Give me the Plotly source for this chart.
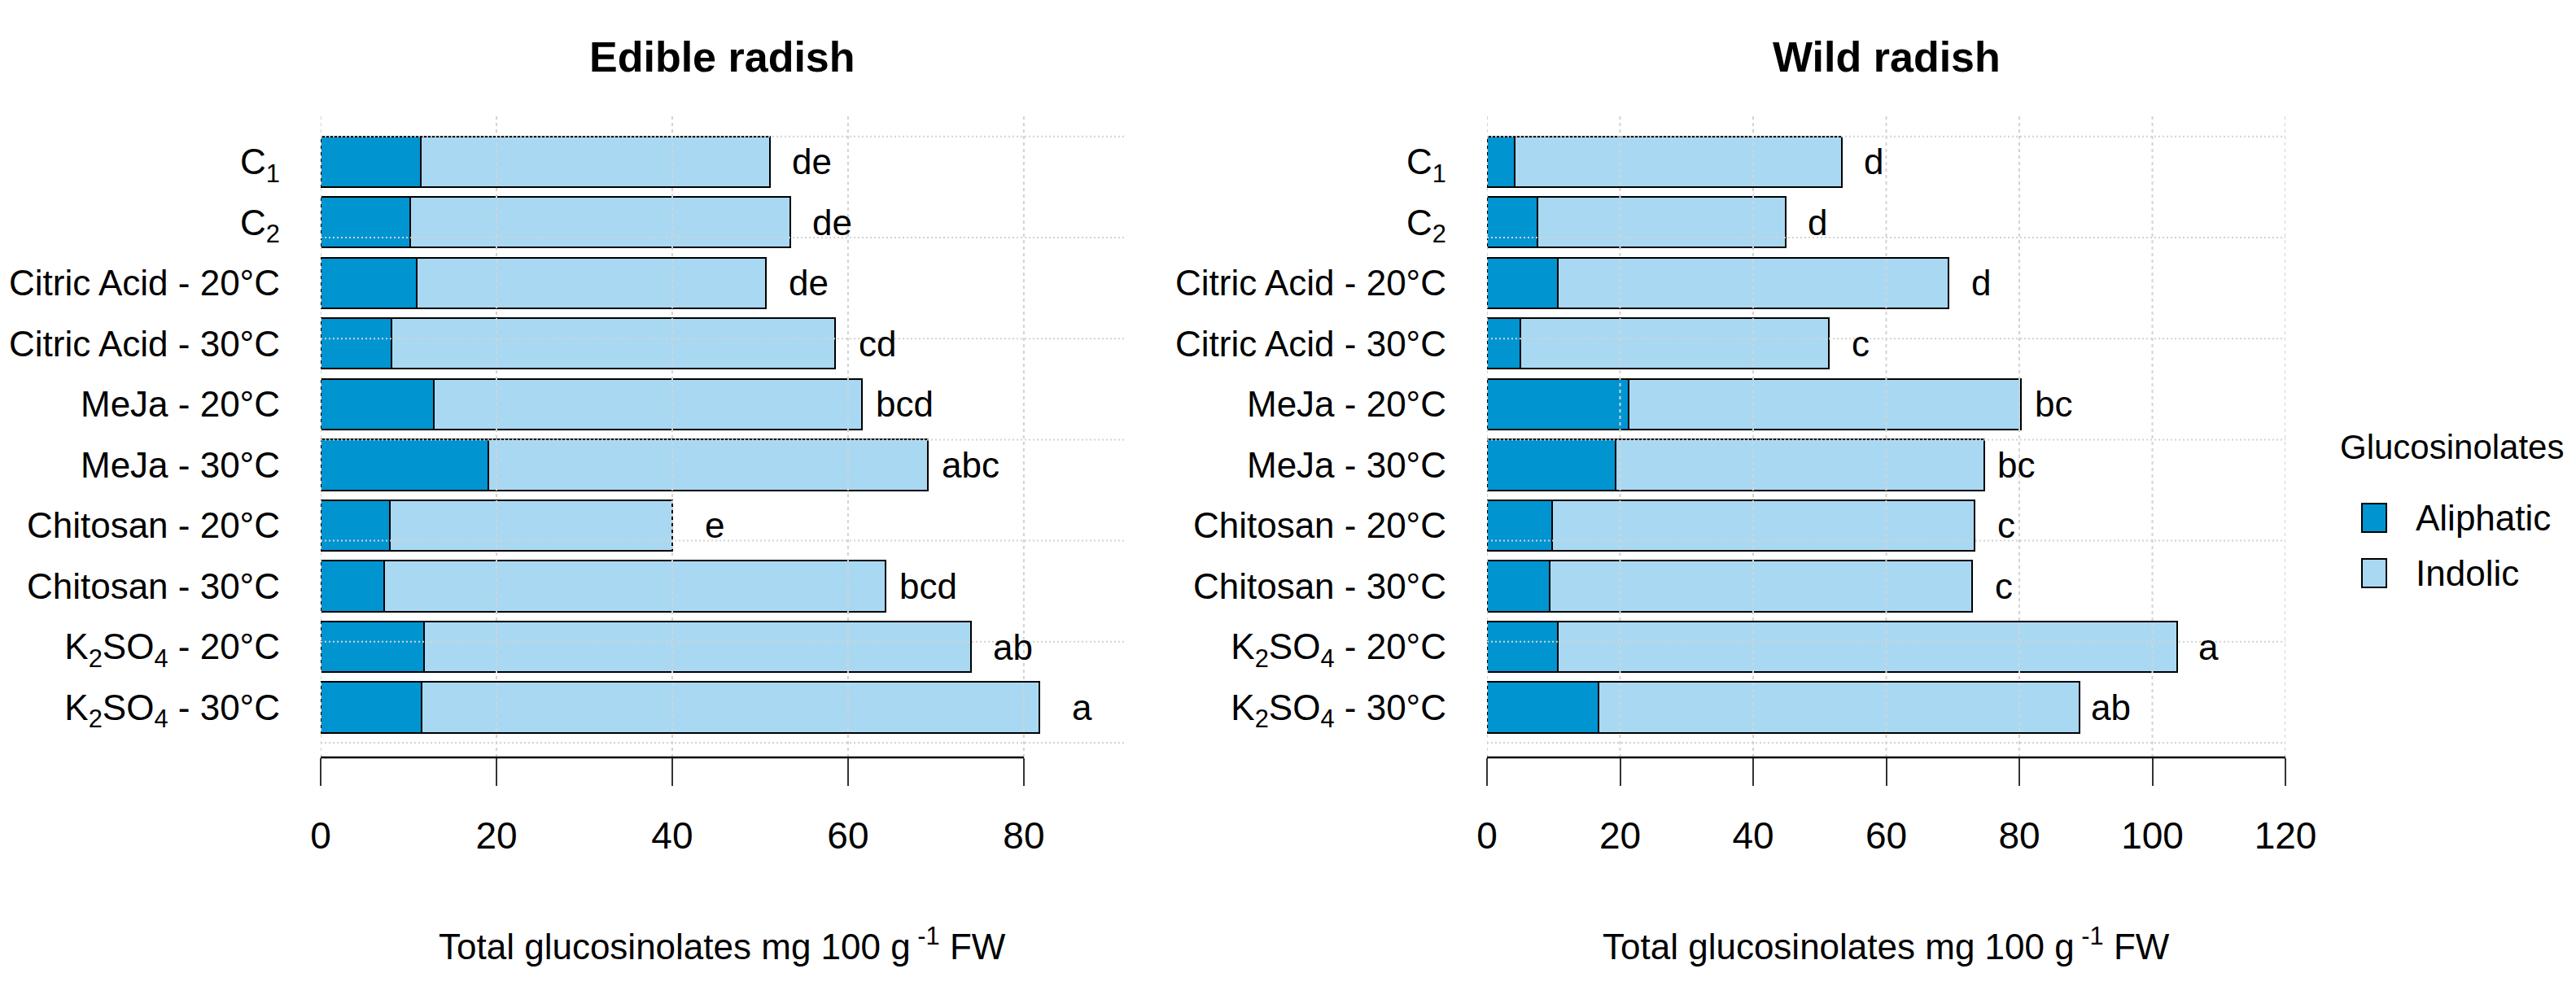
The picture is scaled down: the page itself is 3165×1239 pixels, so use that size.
import plotly.graph_objects as go

# ---------------- data ----------------
categories = [
    "C<sub>1</sub>", "C<sub>2</sub>",
    "Citric Acid - 20°C", "Citric Acid - 30°C",
    "MeJa - 20°C", "MeJa - 30°C",
    "Chitosan - 20°C", "Chitosan - 30°C",
    "K<sub>2</sub>SO<sub>4</sub> - 20°C", "K<sub>2</sub>SO<sub>4</sub> - 30°C",
]
edible_aliphatic = [11.4, 10.2, 10.9, 8.1, 12.9, 19.1, 7.9, 7.2, 11.8, 11.5]
edible_indolic = [39.7, 43.2, 39.8, 50.4, 48.7, 50.0, 32.1, 57.1, 62.2, 70.3]
edible_letters = ["de", "de", "de", "cd", "bcd", "abc", "e", "bcd", "ab", "a"]

wild_aliphatic = [4.1, 7.6, 10.7, 5.0, 21.3, 19.3, 9.8, 9.4, 10.7, 16.7]
wild_indolic = [49.2, 37.3, 58.7, 46.4, 59.0, 55.4, 63.5, 63.5, 93.0, 72.3]
wild_letters = ["d", "d", "d", "c", "bc", "bc", "c", "c", "a", "ab"]

edible_ticks = [0, 20, 40, 60, 80]
wild_ticks = [0, 20, 40, 60, 80, 100, 120]
ygrid = [0, 2, 4, 6, 8, 10, 12]

# ---------------- style ----------------
W, H = 3165, 1239
FONT = "Liberation Sans, Arial, sans-serif"
FS = 44
C_ALI = "#0094D1"
C_IND = "#A9D8F2"
GRID = "#D3D3D3"

n = len(categories)
ypos = [0.7 + 1.2 * (n - 1 - i) for i in range(n)]   # R barplot positions (space=0.2)

ydom = [(H - 931) / H, (H - 143) / H]
xdom1 = [394 / W, 1381 / W]
xdom2 = [1827 / W, 2808 / W]

fig = go.Figure()

panels = [
    ("x", "y", edible_aliphatic, edible_indolic, edible_letters, edible_ticks),
    ("x2", "y2", wild_aliphatic, wild_indolic, wild_letters, wild_ticks),
]
for xa, ya, ali, ind, letters, ticks in panels:
    fig.add_trace(go.Bar(x=ali, y=ypos, orientation="h", width=1.0, name="Aliphatic",
                         marker=dict(color=C_ALI, line=dict(color="black", width=2)),
                         xaxis=xa, yaxis=ya, showlegend=False, hoverinfo="skip"))
    fig.add_trace(go.Bar(x=ind, y=ypos, orientation="h", width=1.0, name="Indolic",
                         marker=dict(color=C_IND, line=dict(color="black", width=2)),
                         xaxis=xa, yaxis=ya, showlegend=False, hoverinfo="skip"))
    for a, b, lab, yp in zip(ali, ind, letters, ypos):
        fig.add_annotation(x=a + b + 4.8, y=yp, xref=xa, yref=ya, text=lab,
                           showarrow=False, xanchor="center", yanchor="middle",
                           font=dict(family=FONT, size=FS, color="black"))
    # grid drawn over the bars, as R's grid() does
    for t in ticks:
        fig.add_shape(type="line", xref=xa, yref=ya + " domain", x0=t, x1=t, y0=0, y1=1,
                      layer="above", line=dict(color=GRID, width=2, dash="4px,4px"))
    for g in ygrid:
        fig.add_shape(type="line", xref=xa + " domain", yref=ya, x0=0, x1=1, y0=g, y1=g,
                      layer="above", line=dict(color=GRID, width=2, dash="2px,3px"))
    # axis line spanning only the tick range (as in base R)
    fig.add_shape(type="line", xref=xa, yref=ya + " domain", x0=ticks[0], x1=ticks[-1],
                  y0=0, y1=0, layer="above", line=dict(color="black", width=2.5))

common_x = dict(
    ticks="outside", ticklen=34, tickwidth=2, tickcolor="#333333",
    showline=False, zeroline=False, showgrid=False,
    tickfont=dict(family=FONT, size=FS + 2, color="black"),
    ticklabelstandoff=22, automargin=False, fixedrange=True,
)
common_y = dict(
    range=[-0.29, 12.40], tickvals=ypos, ticktext=categories, ticks="",
    showline=False, zeroline=False, showgrid=False, domain=ydom, automargin=False,
    tickfont=dict(family=FONT, size=FS, color="black"), ticklabelstandoff=49,
    fixedrange=True,
)

fig.update_layout(
    width=W, height=H, barmode="stack", plot_bgcolor="white", paper_bgcolor="white",
    margin=dict(l=0, r=0, t=0, b=0, autoexpand=False),
    xaxis=dict(domain=xdom1, range=[0, 91.4], tickvals=edible_ticks, anchor="y", **common_x),
    yaxis=dict(anchor="x", **common_y),
    xaxis2=dict(domain=xdom2, range=[0, 120], tickvals=wild_ticks, anchor="y2", **common_x),
    yaxis2=dict(anchor="x2", **common_y),
)

# titles
for dom, title in ((xdom1, "Edible radish"), (xdom2, "Wild radish")):
    cx = (dom[0] + dom[1]) / 2
    fig.add_annotation(x=cx, y=(H - 70) / H, xref="paper", yref="paper", text="<b>" + title + "</b>",
                       showarrow=False, xanchor="center", yanchor="middle",
                       font=dict(family=FONT, size=52, color="black"))
    fig.add_annotation(x=cx, y=(H - 1160) / H, xref="paper", yref="paper",
                       text="Total glucosinolates mg 100 g<sup> -1</sup> FW",
                       showarrow=False, xanchor="center", yanchor="middle",
                       font=dict(family=FONT, size=FS, color="black"))

# legend (drawn manually to match the large key boxes)
fig.add_annotation(x=2873 / W, y=(H - 549) / H, xref="paper", yref="paper", text="Glucosinolates",
                   showarrow=False, xanchor="left", yanchor="middle",
                   font=dict(family=FONT, size=42, color="black"))
for (top, bot, col, lab) in ((619, 654, C_ALI, "Aliphatic"), (687, 722, C_IND, "Indolic")):
    fig.add_shape(type="rect", xref="paper", yref="paper", x0=2902 / W, x1=2932 / W,
                  y0=(H - bot) / H, y1=(H - top) / H, fillcolor=col, line=dict(color="black", width=2))
    fig.add_annotation(x=2966 / W, y=(H - (top + bot) / 2) / H, xref="paper", yref="paper", text=lab,
                       showarrow=False, xanchor="left", yanchor="middle",
                       font=dict(family=FONT, size=FS, color="black"))

fig.write_html("out.html", config={"displayModeBar": False},
               post_script="document.body.style.margin='0px';")
